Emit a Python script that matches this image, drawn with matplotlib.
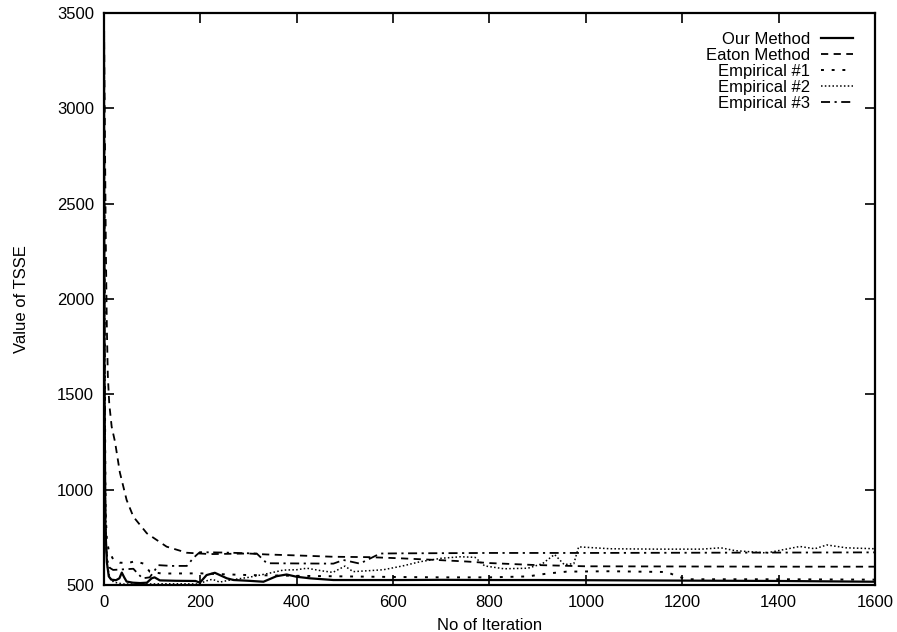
import matplotlib
matplotlib.use("Agg")
import matplotlib.pyplot as plt

plt.rcParams['font.family'] = ['Liberation Sans', 'DejaVu Sans']

# Our Method (solid)
our_x = [0, 1, 3, 6, 10, 15, 25, 32, 37, 42, 47, 60, 75, 89, 99, 105, 116, 150, 190, 199,
         213, 230, 255, 269, 300, 331, 358, 379, 400, 427, 476, 550, 614, 700, 800, 900,
         1000, 1100, 1200, 1300, 1400, 1500, 1600]
our_y = [3400, 1600, 800, 620, 545, 528, 525, 535, 565, 540, 518, 512, 510, 512, 535, 540, 524,
         522, 521, 512, 552, 564, 535, 526, 522, 517, 546, 555, 543, 535, 526, 526, 526, 527,
         526, 526, 525, 524, 523, 522, 521, 519, 517]

# Eaton Method (dashed)
eaton_x = [0, 1, 2, 3, 4, 6, 8, 11, 16, 23, 33, 47, 61, 89, 130, 172, 220, 300, 338, 400,
           476, 550, 614, 700, 753, 800, 891, 1000, 1200, 1400, 1600]
eaton_y = [3480, 3150, 2850, 2550, 2250, 1850, 1600, 1450, 1330, 1250, 1090, 946, 858, 771,
           701, 669, 662, 665, 660, 655, 648, 646, 640, 630, 623, 615, 605, 598, 597, 596, 596]

# Empirical #1 (sparse dots)
emp1_x = [0, 1, 2, 3, 4, 6, 10, 20, 33, 50, 65, 82, 95, 120, 200, 250, 300, 400, 500, 600,
          700, 800, 880, 920, 960, 1050, 1168, 1190, 1210, 1300, 1400, 1500, 1600]
emp1_y = [3450, 2400, 1500, 1000, 850, 740, 680, 630, 617, 615, 625, 612, 570, 560, 561, 556,
          552, 548, 545, 542, 540, 540, 545, 560, 570, 572, 568, 545, 530, 530, 530, 529, 528]

# Empirical #2 (dense dots)
emp2_x = [0, 1, 2, 4, 7, 12, 20, 40, 80, 120, 160, 199, 210, 225, 240, 260, 300, 340, 372,
          400, 421, 450, 475, 500, 517, 550, 580, 620, 656, 700, 740, 770, 790, 830, 880, 910,
          935, 955, 975, 985, 1050, 1150, 1240, 1280, 1310, 1375, 1444, 1475, 1500, 1540, 1600]
emp2_y = [3300, 1800, 1100, 750, 600, 540, 515, 505, 505, 506, 506, 505, 520, 530, 515, 525,
          540, 560, 578, 580, 588, 575, 566, 599, 570, 575, 580, 600, 622, 640, 648, 645, 600,
          585, 588, 612, 660, 607, 612, 700, 690, 688, 688, 695, 680, 668, 702, 690, 710, 695,
          690]

# Empirical #3 (dash-dot)
emp3_x = [0, 1, 2, 3, 5, 8, 12, 19, 40, 61, 70, 80, 95, 113, 140, 172, 185, 192, 199, 250,
          317, 338, 400, 476, 497, 531, 573, 620, 718, 800, 1000, 1200, 1400, 1600]
emp3_y = [3350, 2000, 1200, 850, 680, 620, 590, 579, 582, 585, 560, 535, 540, 604, 600, 600,
          640, 657, 672, 670, 665, 614, 613, 612, 631, 612, 665, 666, 667, 668, 668, 669, 670,
          671]

fig = plt.figure(figsize=(8.97, 6.32), dpi=100)
ax = fig.add_axes([0.1159, 0.0744, 0.8596, 0.905])

ax.plot(our_x, our_y, color='black', lw=1.6, linestyle='-', label='Our Method')
ax.plot(eaton_x, eaton_y, color='black', lw=1.3, linestyle=(0, (4, 3)), label='Eaton Method')
ax.plot(emp1_x, emp1_y, color='black', lw=1.4, linestyle=(0, (1.5, 4)), label='Empirical #1')
ax.plot(emp2_x, emp2_y, color='black', lw=1.1, linestyle=(0, (1, 1.5)), label='Empirical #2')
ax.plot(emp3_x, emp3_y, color='black', lw=1.3, linestyle=(0, (5, 2.5, 1.2, 2.5)),
        label='Empirical #3')

ax.set_xlim(0, 1600)
ax.set_ylim(500, 3500)
ax.set_xticks(range(0, 1601, 200))
ax.set_yticks(range(500, 3501, 500))
ax.tick_params(direction='in', length=7, width=1.2, top=True, right=True,
               labelsize=12, pad=7)
for s in ax.spines.values():
    s.set_linewidth(1.6)

ax.set_xlabel('No of Iteration', fontsize=12, labelpad=6)
ax.set_ylabel('Value of TSSE', fontsize=12, labelpad=20)

leg = ax.legend(loc='upper right', bbox_to_anchor=(0.991, 0.993), frameon=False,
                markerfirst=False, fontsize=12, handlelength=1.9, handletextpad=0.7,
                labelspacing=0.06, borderaxespad=0.5)

fig.savefig('out.png', dpi=100)
